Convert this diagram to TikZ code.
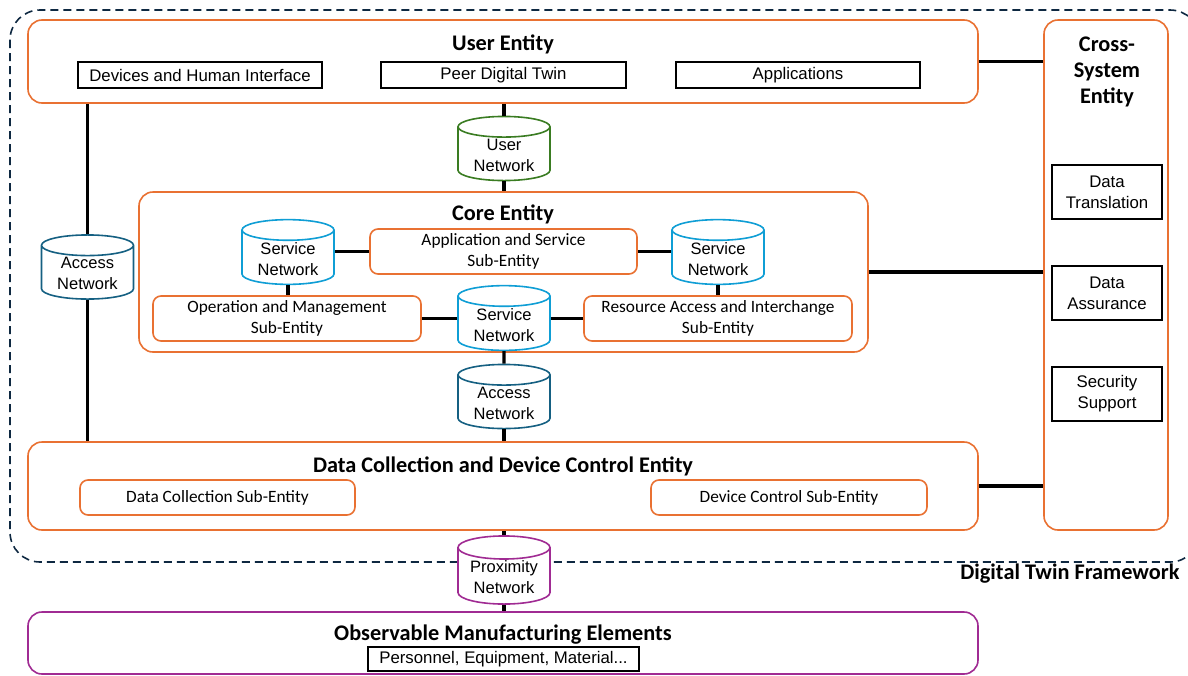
\documentclass[tikz,border=0pt]{standalone}
\usepackage{fontspec}
\setmainfont{Carlito}
\newfontfamily\aptos{Liberation Sans}
\usetikzlibrary{shapes.geometric}
\definecolor{entorange}{HTML}{E97132}
\definecolor{netgreen}{HTML}{3A7C22}
\definecolor{netblue}{HTML}{0F9ED5}
\definecolor{netteal}{HTML}{156082}
\definecolor{netpurple}{HTML}{A02B93}
\definecolor{framenavy}{HTML}{0E2841}

\begin{document}
\begin{tikzpicture}[x=1pt,y=-1pt,
    entity/.style={draw=entorange,line width=1.6pt,rounded corners=14pt,fill=white},
    subent/.style={draw=entorange,line width=1.6pt,rounded corners=8pt,align=center,
        font=\fontsize{17.3}{21}\selectfont},
    plainbox/.style={draw=black,line width=1.5pt,align=center,
        font=\aptos\fontsize{16.8}{21}\selectfont},
    title/.style={font=\bfseries\fontsize{22.3}{26}\selectfont,align=center},
    net/.style={cylinder,shape border rotate=90,aspect=0.33,draw=#1,line width=1.6pt,
        fill=white,minimum width=92,minimum height=62,inner sep=1pt,align=center,
        anchor=shape center,font=\aptos\fontsize{16.5}{21}\selectfont},
    link/.style={line width=3.2pt}]
\useasboundingbox (0,0) rectangle (1188,675);

% framework frame
\draw[framenavy,line width=1.6pt,dash pattern=on 8pt off 5pt,rounded corners=30pt]
    (10,10) rectangle (1200,562);
\node[title,anchor=east] (dtf) at (1183,574) {Digital Twin Framework};

% user entity
\node[entity,minimum width=950,minimum height=83] (ue) at (503,61.5) {};
\node[title] (uet) at (503,44) {User Entity};
\node[plainbox,minimum width=244,minimum height=26] (dhi) at (200,75) {Devices and Human Interface};
\node[plainbox,minimum width=245,minimum height=26] (pdt) at (503.5,75) {Peer Digital Twin};
\node[plainbox,minimum width=244,minimum height=26] (apps) at (798,75) {Applications};

% core entity
\node[entity,minimum width=729,minimum height=160] (core) at (503.5,272) {};
\node[title] (coret) at (503,214) {Core Entity};
\node[subent,minimum width=267,minimum height=45] (asub) at (503.5,251.5) {Application and Service\\Sub-Entity};
\node[subent,minimum width=268,minimum height=45] (om) at (287,318.5) {Operation and Management\\Sub-Entity};
\node[subent,minimum width=268,minimum height=45] (ra) at (718,318.5) {Resource Access and Interchange\\Sub-Entity};
\node[net=netblue] (sn1) at (288,252) {Service\\Network};
\node[net=netblue] (sn2) at (718,252) {Service\\Network};
\node[net=netblue] (sn3) at (504,318) {Service\\Network};

% data collection and device control entity
\node[entity,minimum width=950,minimum height=88] (dc) at (503,486) {};
\node[title] (dct) at (503,466) {Data Collection and Device Control Entity};
\node[subent,minimum width=275,minimum height=35] (dcs) at (217.5,497.5) {Data Collection Sub-Entity};
\node[subent,minimum width=276,minimum height=35] (dvc) at (789,497.5) {Device Control Sub-Entity};

% observable manufacturing elements
\node[entity,draw=netpurple,minimum width=950,minimum height=62] (ome) at (503,643) {};
\node[title] (omet) at (503,635) {Observable Manufacturing Elements};
\node[plainbox,minimum width=271,minimum height=24] (pem) at (503.5,659) {Personnel, Equipment, Material...};

% cross-system entity
\node[entity,minimum width=124,minimum height=510] (cs) at (1106,275) {};
\node[title] (cst) at (1107,72) {Cross-\\System\\Entity};
\node[plainbox,minimum width=110,minimum height=54] (dt) at (1107,192) {Data\\Translation};
\node[plainbox,minimum width=110,minimum height=54] (da) at (1107,293) {Data\\Assurance};
\node[plainbox,minimum width=110,minimum height=54] (ss) at (1107,394) {Security\\Support};

% networks
\node[net=netgreen] (un) at (504,148.5) {User\\Network};
\node[net=netteal] (an1) at (87.5,267) {Access\\Network};
\node[net=netteal] (an2) at (504,396.5) {Access\\Network};
\node[net=netpurple] (pn) at (504,570) {Proximity\\Network};

% links
\draw[link] (un.north) -- (un.north |- ue.south);
\draw[link] (un.south) -- (un.south |- core.north);
\draw[link] (an1.north) -- (an1.north |- ue.south);
\draw[link] (an1.south) -- (an1.south |- dc.north);
\draw[link] (asub.west) -- (asub.west -| sn1.east);
\draw[link] (asub.east) -- (asub.east -| sn2.west);
\draw[link] (sn1.south) -- (sn1.south |- om.north);
\draw[link] (sn2.south) -- (sn2.south |- ra.north);
\draw[link] (om.east) -- (om.east -| sn3.west);
\draw[link] (ra.west) -- (ra.west -| sn3.east);
\draw[link] (sn3.south) -- (an2.north);
\draw[link] (an2.south) -- (an2.south |- dc.north);
\draw[link] (pn.north) -- (pn.north |- dc.south);
\draw[link] (pn.south) -- (pn.south |- ome.north);
\draw[link] (ue.east) -- (ue.east -| cs.west);
\draw[link] (core.east) -- (core.east -| cs.west);
\draw[link] (dc.east) -- (dc.east -| cs.west);
\end{tikzpicture}
\end{document}
